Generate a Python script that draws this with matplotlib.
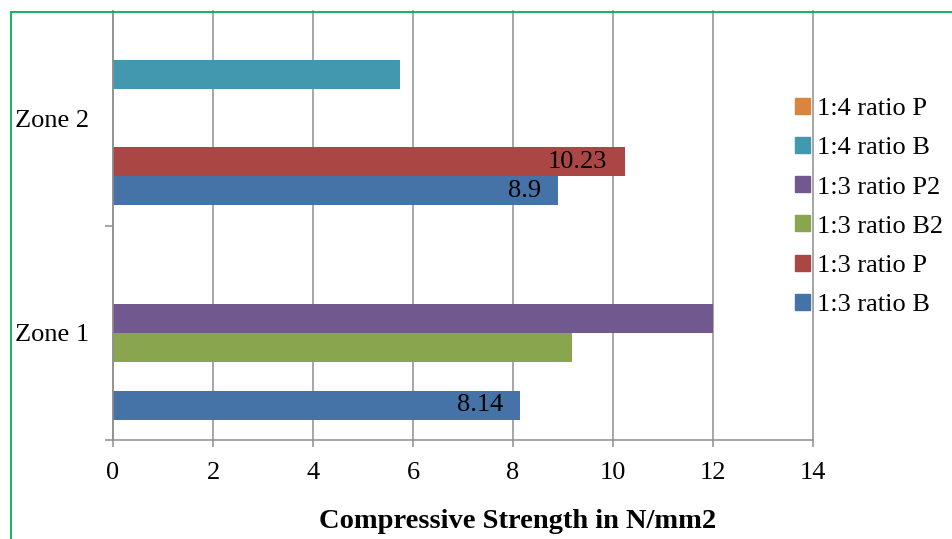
import matplotlib
matplotlib.use("Agg")
import matplotlib.pyplot as plt
import matplotlib.patches as mpatches
import numpy as np

plt.rcParams['font.family'] = ['Liberation Serif', 'DejaVu Serif']

categories = ["Zone 1", "Zone 2"]
series_names = ["1:3 ratio B", "1:3 ratio P", "1:3 ratio B2", "1:3 ratio P2", "1:4 ratio B", "1:4 ratio P"]
series_colors = ["#4572A7", "#AA4643", "#89A54E", "#71588F", "#4198AF", "#DB843D"]
# values per series: [Zone 1, Zone 2]
v_13B = [8.14, 8.9]
v_13P = [0.0, 10.23]
v_13B2 = [9.17, 0.0]
v_13P2 = [12.0, 0.0]
v_14B = [0.0, 5.73]
v_14P = [0.0, 0.0]
series_values = [v_13B, v_13P, v_13B2, v_13P2, v_14B, v_14P]
# data labels shown in the chart: (series index, category index, text)
data_labels = [(0, 0, "8.14"), (0, 1, "8.9"), (1, 1, "10.23")]
x_ticks = [0, 2, 4, 6, 8, 10, 12, 14]

FS = 19
W, H = 952, 539
fig = plt.figure(figsize=(W / 100, H / 100), dpi=100)
ax = fig.add_axes([113 / W, (H - 440) / H, 700 / W, 429 / H])

n = len(series_names)
h = 29 / 215.0
y = np.arange(len(categories))
for i, (name, vals, col) in enumerate(zip(series_names, series_values, series_colors)):
    ax.barh(y + (i - (n - 1) / 2) * h, vals, height=h, color=col, label=name, zorder=3)

for si, ci, txt in data_labels:
    val = series_values[si][ci]
    ax.annotate(txt, (val, y[ci] + (si - (n - 1) / 2) * h), xytext=(-17, 0),
                textcoords='offset pixels', ha='right', va='center',
                fontsize=FS, color='black', zorder=5)

ax.set_xlim(0, 14)
ax.set_ylim(-0.5, 1.5)
ax.set_xticks(x_ticks)
ax.set_xticklabels([str(t) for t in x_ticks])
grey = '#8E8E8E'
ax.grid(axis='x', color=grey, linewidth=1.1, zorder=0)
ax.set_axisbelow(True)
for gl in ax.get_xgridlines():
    gl.set_clip_on(False)

for s in ['top', 'right']:
    ax.spines[s].set_visible(False)
ax.spines['left'].set_color(grey)
ax.spines['bottom'].set_color(grey)
ax.spines['left'].set_linewidth(1.1)
ax.spines['bottom'].set_linewidth(1.1)
ax.spines['left'].set_zorder(4)

ax.set_yticks([-0.5, 0.5])
ax.set_yticklabels([])
ax.set_yticks(y, minor=True)
ax.set_yticklabels(categories, minor=True)
ax.tick_params(axis='y', which='major', length=6, color=grey, width=1.1, direction='out')
ax.tick_params(axis='y', which='minor', length=0, pad=17, labelsize=FS)
ax.tick_params(axis='x', length=5, color=grey, width=1.1, direction='out', pad=11, labelsize=FS)

handles = [mpatches.Patch(color=c) for c in series_colors][::-1]
labels = series_names[::-1]
fig.legend(handles, labels, loc='center left', bbox_to_anchor=(795 / W, 1 - 207 / H),
           frameon=False, fontsize=FS, handlelength=0.55, handleheight=0.55,
           handletextpad=0.3, labelspacing=0.64, borderaxespad=0, borderpad=0)

fig.text(518 / W, 1 - 522 / H, "Compressive Strength in N/mm2", ha='center', va='center',
         fontsize=20.5, fontweight='bold')

frame = mpatches.Rectangle((10.5 / W, -0.1), 1.2, 1 - 11.5 / H + 0.1, transform=fig.transFigure,
                           fill=False, edgecolor='#00B050', linewidth=1.3, zorder=10)
fig.patches.append(frame)

fig.savefig("out.png", dpi=100)
